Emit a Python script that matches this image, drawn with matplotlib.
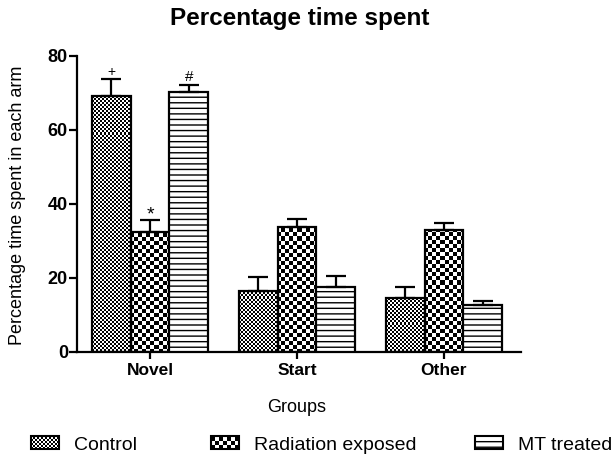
import numpy as np
import matplotlib
matplotlib.use("Agg")
import matplotlib.pyplot as plt
from matplotlib.patches import Rectangle
from matplotlib.legend_handler import HandlerBase

plt.rcParams['font.family'] = ['Liberation Sans', 'DejaVu Sans']

groups = ['Novel', 'Start', 'Other']
series_names = ['Control', 'Radiation exposed', 'MT treated']
control = [69.3, 16.6, 14.6]
control_err = [4.4, 3.6, 2.9]
radiation = [32.3, 33.9, 33.0]
radiation_err = [3.3, 2.0, 1.9]
mt = [70.2, 17.5, 12.7]
mt_err = [2.0, 3.0, 1.2]
yticks = [0, 20, 40, 60, 80]
marks = {('Control', 0): '+', ('Radiation exposed', 0): '*', ('MT treated', 0): '#'}

W, H = 616, 457
fig = plt.figure(figsize=(W / 100, H / 100), dpi=100)
ax = fig.add_axes([77 / W, 1 - 352 / H, (521 - 77) / W, (352 - 56) / H])
ax.set_xlim(-0.497, 2.524)
ax.set_ylim(0, 80)

bw = 0.263
x = np.arange(len(groups))
offsets = [-bw, 0, bw]
vals = [control, radiation, mt]
errs = [control_err, radiation_err, mt_err]
cells = [2, 4, None]


def checker_fill(ax, patch, cell):
    tr = ax.transData
    bx, by = patch.get_x(), patch.get_y()
    w, h = patch.get_width(), patch.get_height()
    (x0, y0), (x1, y1) = tr.transform([(bx, by), (bx + w, by + h)])
    px0, py0 = np.floor(x0), np.floor(y0)
    nx = int(np.ceil((x1 - px0) / cell)) + 1
    ny = int(np.ceil((y1 - py0) / cell)) + 1
    ii, jj = np.meshgrid(np.arange(nx), np.arange(ny))
    arr = ((ii + jj) % 2).astype(float)
    inv = tr.inverted()
    (dx0, dy0), (dx1, dy1) = inv.transform([(px0, py0), (px0 + nx * cell, py0 + ny * cell)])
    im = ax.imshow(arr, cmap='gray_r', vmin=0, vmax=1, extent=(dx0, dx1, dy0, dy1),
                   origin='lower', interpolation='nearest', aspect='auto', zorder=2)
    im.set_clip_path(patch)


for k in range(3):
    if cells[k] is None:
        bars = ax.bar(x + offsets[k], vals[k], bw, facecolor='white', edgecolor='black',
                      linewidth=1.6, hatch='---', zorder=3)
    else:
        bars = ax.bar(x + offsets[k], vals[k], bw, facecolor='none', edgecolor='black',
                      linewidth=1.6, zorder=3)
        for b in bars:
            checker_fill(ax, b, cells[k])
    ax.errorbar(x + offsets[k], vals[k], yerr=[np.zeros(len(groups)), errs[k]], fmt='none',
                ecolor='black', elinewidth=1.6, capsize=7.5, capthick=1.6, zorder=4)
    for gi in range(len(groups)):
        m = marks.get((series_names[k], gi))
        if m:
            dy = {'*': 4.0, '+': 5.5, '#': 5.5}[m]
            fs = {'*': 14, '+': 10, '#': 11}[m]
            ax.annotate(m, (x[gi] + offsets[k], vals[k][gi] + errs[k][gi]),
                        xytext=(0, dy), textcoords='offset points', ha='center', va='center',
                        fontsize=fs, zorder=5)

ax.set_xlim(-0.497, 2.524)
ax.set_ylim(0, 80)
ax.set_xticks(x)
ax.set_xticklabels(groups, fontsize=12.5, fontweight='bold')
ax.set_yticks(yticks)
ax.set_yticklabels([str(t) for t in yticks], fontsize=13, fontweight='bold')
for s in ['top', 'right']:
    ax.spines[s].set_visible(False)
for s in ['left', 'bottom']:
    ax.spines[s].set_linewidth(1.6)
ax.tick_params(axis='y', length=5.5, width=1.6, pad=1)
ax.tick_params(axis='x', length=5, width=1.6, pad=3)

fig.text(300 / W, 1 - 18 / H, 'Percentage time spent', ha='center', va='center',
         fontsize=17.5, fontweight='bold')
fig.text(18 / W, 1 - 205 / H, 'Percentage time spent in each arm', ha='center', va='center',
         rotation=90, fontsize=13)
fig.text(297 / W, 1 - 407 / H, 'Groups', ha='center', va='center', fontsize=13)


class CheckerHandler(HandlerBase):
    def __init__(self, cell_pt):
        super().__init__()
        self.cell = cell_pt

    def create_artists(self, legend, orig_handle, xdescent, ydescent, width, height,
                       fontsize, trans):
        arts = []
        nx = max(1, int(round(width / self.cell)))
        ny = max(1, int(round(height / self.cell)))
        cw, ch = width / nx, height / ny
        for i in range(nx):
            for j in range(ny):
                if (i + j) % 2 == 0:
                    arts.append(Rectangle((-xdescent + i * cw, -ydescent + j * ch), cw, ch,
                                          facecolor='black', linewidth=0, transform=trans))
        arts.append(Rectangle((-xdescent, -ydescent), width, height, fill=False,
                              edgecolor='black', linewidth=1.5, transform=trans))
        return arts


class HatchHandler(HandlerBase):
    def create_artists(self, legend, orig_handle, xdescent, ydescent, width, height,
                       fontsize, trans):
        r = Rectangle((-xdescent, -ydescent), width, height, facecolor='white',
                      edgecolor='black', hatch='---', linewidth=1.5, transform=trans)
        return [r]


leg_x = [31, 211, 475]
handlers = [CheckerHandler(2 * 0.72), CheckerHandler(4 * 0.72), HatchHandler()]
for k in range(3):
    h = Rectangle((0, 0), 1, 1)
    fig.legend([h], [series_names[k]], loc='center left',
               bbox_to_anchor=(leg_x[k] / W, 1 - 445 / H), frameon=False, borderpad=0,
               borderaxespad=0, handlelength=1.44, handleheight=0.62, handletextpad=0.75,
               fontsize=14, handler_map={Rectangle: handlers[k]})

fig.savefig('out.png', dpi=100)
